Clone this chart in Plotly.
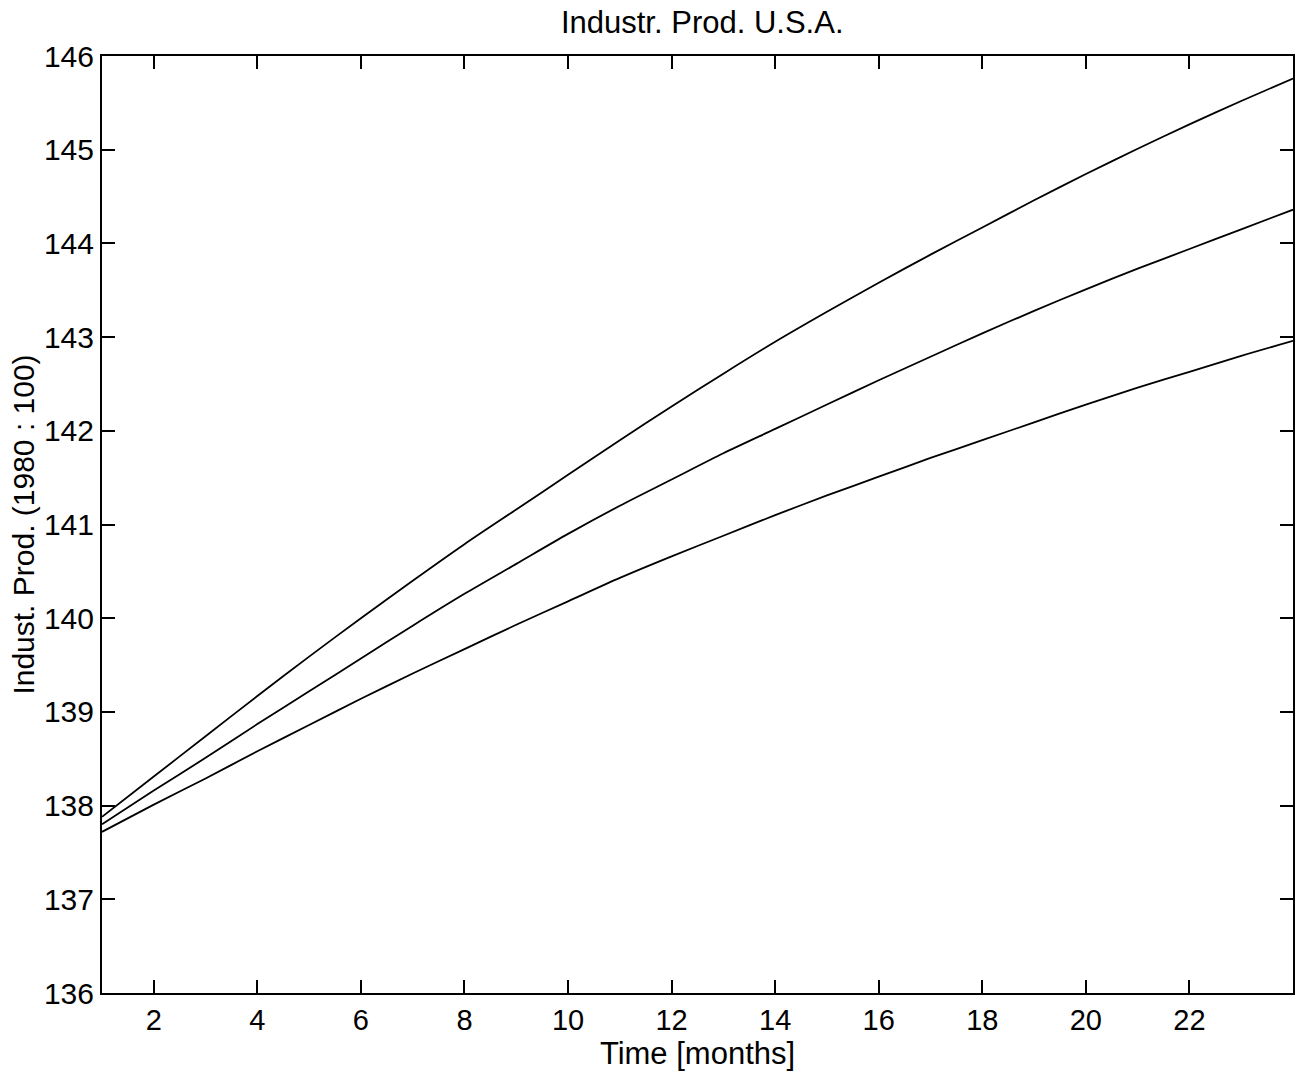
import plotly.graph_objects as go

months = list(range(1, 25))

upper = [137.88, 138.31, 138.74, 139.17, 139.59, 140.00, 140.40, 140.79,
         141.16, 141.53, 141.90, 142.26, 142.61, 142.95, 143.27, 143.58,
         143.88, 144.17, 144.46, 144.74, 145.01, 145.27, 145.52, 145.76]
middle = [137.80, 138.16, 138.51, 138.87, 139.22, 139.57, 139.92, 140.26,
          140.58, 140.90, 141.20, 141.48, 141.76, 142.02, 142.28, 142.54,
          142.79, 143.04, 143.28, 143.51, 143.73, 143.94, 144.15, 144.36]
lower = [137.72, 138.01, 138.29, 138.58, 138.86, 139.14, 139.41, 139.67,
         139.93, 140.18, 140.43, 140.66, 140.88, 141.10, 141.31, 141.51,
         141.71, 141.90, 142.09, 142.28, 142.46, 142.63, 142.80, 142.96]

x_ticks = [2, 4, 6, 8, 10, 12, 14, 16, 18, 20, 22]
y_ticks = [136, 137, 138, 139, 140, 141, 142, 143, 144, 145, 146]

title_text = "Industr. Prod. U.S.A."
x_title = "Time [months]"
y_title = "Indust. Prod. (1980 : 100)"

fig = go.Figure()
for series in (upper, middle, lower):
    fig.add_trace(go.Scatter(x=months, y=series, mode="lines",
                             line=dict(color="black", width=1.8, shape="spline", smoothing=0.8),
                             showlegend=False, hoverinfo="skip"))

font_main = "Liberation Sans, Arial, Helvetica, sans-serif"

fig.update_layout(
    width=1298, height=1078,
    margin=dict(l=102, r=3, t=56, b=85),
    paper_bgcolor="white", plot_bgcolor="white",
    title=dict(text=title_text, x=0.541, xanchor="center", y=0.979, yanchor="middle",
               font=dict(family=font_main, size=31, color="black")),
    font=dict(family=font_main, color="black"),
)

fig.update_xaxes(
    range=[1, 24], tickvals=x_ticks, ticktext=[str(v) for v in x_ticks],
    ticks="inside", ticklen=13, tickwidth=1.5, tickcolor="black",
    showline=True, linecolor="black", linewidth=2, mirror="ticks",
    showgrid=False, zeroline=False,
    tickfont=dict(size=29, family=font_main, color="black"),
    title=dict(text=x_title, font=dict(size=31, family=font_main, color="black"), standoff=0),
)
fig.update_yaxes(
    range=[136, 146], tickvals=y_ticks, ticktext=[str(v) for v in y_ticks],
    ticks="inside", ticklen=13, tickwidth=1.5, tickcolor="black",
    showline=True, linecolor="black", linewidth=2, mirror="ticks",
    showgrid=False, zeroline=False,
    tickfont=dict(size=30, family=font_main, color="black"),
    title=dict(text=y_title, font=dict(size=30, family=font_main, color="black"), standoff=0),
)

fig.write_html("out.html")
